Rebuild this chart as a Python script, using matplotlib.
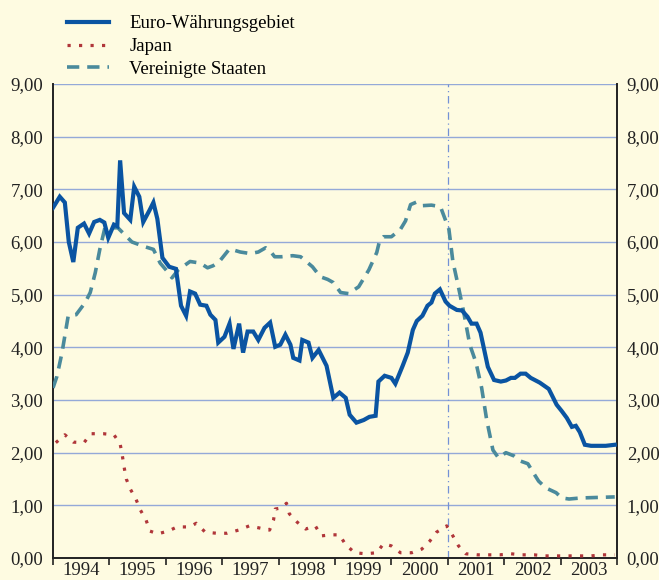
import matplotlib
matplotlib.use("Agg")
import matplotlib.pyplot as plt
from matplotlib.ticker import FixedLocator, FuncFormatter, NullFormatter

# Euro-Waehrungsgebiet, 3-Monats-Geldmarktsaetze (in % p.a.)
euro_x = [1994.00, 1994.12, 1994.21, 1994.28, 1994.36, 1994.44, 1994.55, 1994.64, 1994.73, 1994.83,
          1994.91, 1994.98, 1995.08, 1995.14, 1995.19, 1995.26, 1995.37, 1995.44, 1995.53, 1995.60,
          1995.71, 1995.78, 1995.85, 1995.94, 1996.06, 1996.18, 1996.27, 1996.36, 1996.43, 1996.52,
          1996.61, 1996.72, 1996.79, 1996.88, 1996.93, 1997.04, 1997.13, 1997.20, 1997.30, 1997.37,
          1997.45, 1997.55, 1997.64, 1997.75, 1997.85, 1997.94, 1998.03, 1998.12, 1998.21, 1998.26,
          1998.37, 1998.42, 1998.53, 1998.60, 1998.71, 1998.85, 1998.97, 1999.08, 1999.19, 1999.26,
          1999.38, 1999.51, 1999.61, 1999.72, 1999.77, 1999.88, 2000.00, 2000.07, 2000.20, 2000.29,
          2000.38, 2000.45, 2000.55, 2000.64, 2000.71, 2000.77, 2000.86, 2000.96, 2001.03, 2001.16,
          2001.25, 2001.35, 2001.42, 2001.51, 2001.58, 2001.71, 2001.82, 2001.94, 2002.03, 2002.12,
          2002.19, 2002.29, 2002.38, 2002.47, 2002.63, 2002.79, 2002.93, 2003.02, 2003.11, 2003.20,
          2003.27, 2003.34, 2003.43, 2003.54, 2003.80, 2003.96]
euro_y = [6.65, 6.86, 6.75, 6.00, 5.62, 6.27, 6.35, 6.16, 6.38, 6.42,
          6.37, 6.08, 6.33, 6.30, 7.55, 6.55, 6.42, 7.05, 6.86, 6.38,
          6.60, 6.75, 6.44, 5.70, 5.53, 5.49, 4.79, 4.60, 5.06, 5.02,
          4.81, 4.79, 4.62, 4.52, 4.09, 4.20, 4.45, 3.97, 4.45, 3.90,
          4.30, 4.30, 4.14, 4.37, 4.47, 4.01, 4.05, 4.24, 4.05, 3.80,
          3.75, 4.14, 4.09, 3.80, 3.95, 3.65, 3.04, 3.14, 3.04, 2.72,
          2.57, 2.62, 2.68, 2.70, 3.35, 3.46, 3.42, 3.31, 3.65, 3.90,
          4.33, 4.50, 4.60, 4.79, 4.85, 5.02, 5.10, 4.87, 4.79, 4.71,
          4.70, 4.58, 4.45, 4.45, 4.28, 3.63, 3.38, 3.35, 3.37, 3.42,
          3.42, 3.50, 3.50, 3.42, 3.33, 3.21, 2.91, 2.79, 2.66, 2.49,
          2.51, 2.39, 2.15, 2.13, 2.13, 2.15]

# Japan
japan_x = [1994.05, 1994.21, 1994.36, 1994.55, 1994.67, 1994.89, 1995.08, 1995.19, 1995.23, 1995.26,
           1995.30, 1995.37, 1995.47, 1995.55, 1995.65, 1995.72, 1995.86, 1996.04, 1996.20, 1996.42,
           1996.54, 1996.70, 1996.90, 1997.09, 1997.29, 1997.48, 1997.66, 1997.84, 1997.91, 1997.94,
           1998.05, 1998.14, 1998.19, 1998.33, 1998.48, 1998.65, 1998.76, 1998.92, 1999.08, 1999.19,
           1999.35, 1999.54, 1999.74, 1999.86, 2000.00, 2000.16, 2000.36, 2000.54, 2000.68, 2000.80,
           2000.98, 2001.09, 2001.19, 2001.32, 2001.53, 2001.73, 2001.92, 2002.12, 2002.31, 2002.53,
           2002.72, 2002.92, 2003.13, 2003.33, 2003.54, 2003.75, 2003.96]
japan_y = [2.19, 2.34, 2.20, 2.19, 2.36, 2.36, 2.34, 2.17, 1.94, 1.73,
           1.50, 1.31, 1.12, 0.91, 0.72, 0.51, 0.46, 0.51, 0.59, 0.59,
           0.66, 0.49, 0.47, 0.47, 0.53, 0.61, 0.57, 0.53, 0.72, 0.93,
           0.95, 1.04, 0.84, 0.68, 0.55, 0.61, 0.42, 0.44, 0.44, 0.25,
           0.10, 0.08, 0.10, 0.27, 0.23, 0.10, 0.10, 0.17, 0.32, 0.49,
           0.61, 0.42, 0.23, 0.08, 0.06, 0.06, 0.06, 0.08, 0.06, 0.06,
           0.04, 0.04, 0.04, 0.04, 0.04, 0.06, 0.06]

# Vereinigte Staaten
us_x = [1994.00, 1994.07, 1994.16, 1994.27, 1994.41, 1994.57, 1994.66, 1994.75, 1994.83, 1994.92,
        1995.15, 1995.40, 1995.63, 1995.78, 1995.90, 1996.02, 1996.11, 1996.22, 1996.43, 1996.61,
        1996.74, 1996.84, 1996.95, 1997.13, 1997.32, 1997.50, 1997.64, 1997.77, 1997.85, 1997.93,
        1998.05, 1998.25, 1998.39, 1998.60, 1998.74, 1998.87, 1998.97, 1999.10, 1999.24, 1999.42,
        1999.60, 1999.74, 1999.79, 1999.86, 2000.00, 2000.16, 2000.25, 2000.34, 2000.45, 2000.55,
        2000.71, 2000.87, 2001.02, 2001.09, 2001.18, 2001.28, 2001.39, 2001.50, 2001.60, 2001.69,
        2001.80, 2001.90, 2002.03, 2002.17, 2002.29, 2002.42, 2002.51, 2002.61, 2002.74, 2002.92,
        2003.02, 2003.15, 2003.36, 2003.96]
us_y = [3.23, 3.45, 3.90, 4.60, 4.62, 4.85, 5.04, 5.42, 5.86, 6.27,
        6.27, 6.00, 5.91, 5.86, 5.60, 5.45, 5.32, 5.47, 5.63, 5.60,
        5.51, 5.55, 5.63, 5.87, 5.81, 5.78, 5.81, 5.89, 5.83, 5.72,
        5.72, 5.74, 5.72, 5.53, 5.34, 5.29, 5.23, 5.04, 5.02, 5.15,
        5.47, 5.80, 6.02, 6.10, 6.10, 6.24, 6.40, 6.71, 6.76, 6.69,
        6.70, 6.67, 6.24, 5.63, 5.19, 4.68, 4.05, 3.71, 3.23, 2.62,
        2.05, 1.90, 2.00, 1.94, 1.84, 1.79, 1.63, 1.46, 1.33, 1.24,
        1.14, 1.12, 1.14, 1.16]

years = list(range(1994, 2004))
euro_start = 2001.0

bg = "#fefbe1"
plt.rcParams["font.family"] = ["Liberation Serif", "DejaVu Serif"]
fs = 13.5

fig = plt.figure(figsize=(6.59, 5.8), dpi=100, facecolor=bg)
ax = fig.add_axes([53 / 659, 1 - 558 / 580, (617 - 53) / 659, (558 - 84) / 580])
ax.set_facecolor(bg)

ax.plot(euro_x, euro_y, color="#0a54a2", lw=3.0, label="Euro-Währungsgebiet", zorder=4,
        solid_joinstyle="miter")
ax.plot(japan_x, japan_y, color="#b0363a", lw=2.3, linestyle=(0, (1, 2.6)),
        dash_capstyle="butt", label="Japan", zorder=3)
ax.plot(us_x, us_y, color="#4a8a9c", lw=2.6, linestyle=(0, (3.4, 2.2)),
        dash_capstyle="butt", label="Vereinigte Staaten", zorder=3)

ax.axvline(euro_start, color="#7391d6", lw=0.9, linestyle=(0, (6, 3, 1, 3)), zorder=2)

ax.set_xlim(1994, 2004)
ax.set_ylim(0, 9)
ax.set_yticks(range(0, 10))
ax.yaxis.set_major_formatter(FuncFormatter(lambda v, p: f"{v:.2f}".replace(".", ",")))
ax.grid(axis="y", color="#94a9d8", lw=1.0)
ax.set_axisbelow(True)

ax.xaxis.set_major_locator(FixedLocator(range(1994, 2005)))
ax.xaxis.set_major_formatter(NullFormatter())
ax.xaxis.set_minor_locator(FixedLocator([y + 0.5 for y in years]))
ax.set_xticklabels([str(y) for y in years], minor=True)
ax.tick_params(axis="x", which="major", direction="out", length=5, width=1.2, color="#222222")
ax.tick_params(axis="x", which="minor", length=0, pad=3, labelsize=fs, labelcolor="#222222")
ax.tick_params(axis="y", length=0, labelleft=True, labelright=True, pad=7,
               labelsize=fs, labelcolor="#222222")

for side in ["left", "right", "bottom"]:
    ax.spines[side].set_color("#222222")
    ax.spines[side].set_linewidth(1.4)
ax.spines["top"].set_visible(False)

fig.legend(loc="upper left", bbox_to_anchor=(58 / 659, 1 - 6 / 580), frameon=False,
           handlelength=2.2, handletextpad=1.1, labelspacing=0.3, borderpad=0,
           fontsize=fs)

fig.savefig("out.png", dpi=100, facecolor=bg)
